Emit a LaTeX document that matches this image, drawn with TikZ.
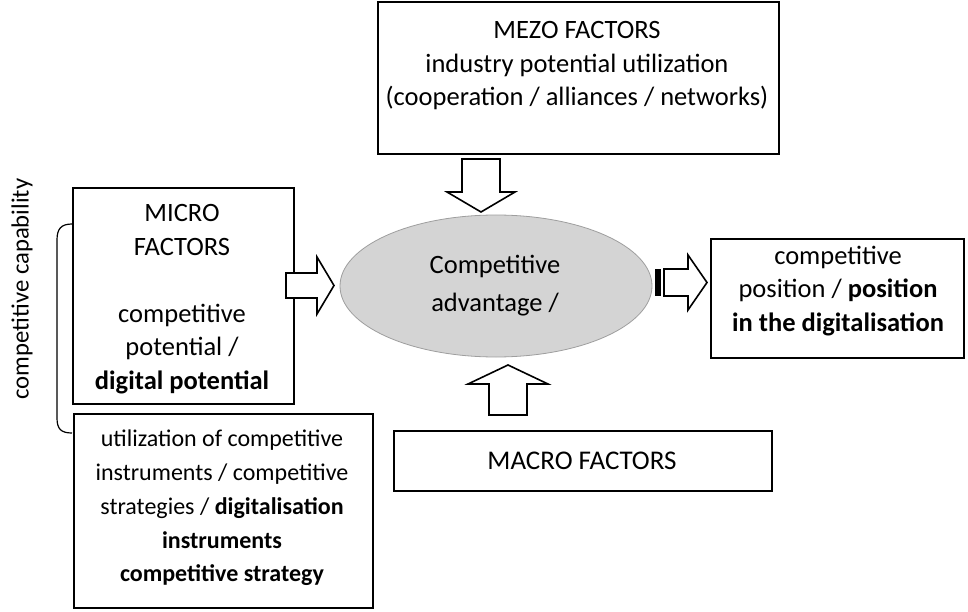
\documentclass[tikz,border=0pt]{standalone}
\usepackage{fontspec}
\setmainfont{Carlito}
\usetikzlibrary{shapes.geometric}
\begin{document}
\begin{tikzpicture}[x=1pt,y=-1pt,
  box/.style={draw=black,line width=1.6pt,fill=white,inner sep=0pt,anchor=north west},
  txt/.style={align=center,font=\fontsize{26.5}{33.5}\selectfont,inner sep=0pt},
  smalltxt/.style={align=center,font=\fontsize{24}{33.8}\selectfont,inner sep=0pt},
  blockarrow/.style={draw=black,line width=1.6pt,fill=white,line join=miter}]
\useasboundingbox (0,0) rectangle (968,612);
% boxes
\node[box,minimum width=401pt,minimum height=152pt] (mezo) at (377,1) {};
\node[box,minimum width=221pt,minimum height=216pt] (micro) at (72,187) {};
\node[box,minimum width=299pt,minimum height=194pt] (instr) at (73,413) {};
\node[box,minimum width=253pt,minimum height=119pt] (pos) at (710,238) {};
\node[box,minimum width=378pt,minimum height=60pt] (macro) at (393,430) {};
% ellipse
\node[ellipse,draw=black!38,line width=0.8pt,fill=black!17,minimum width=312pt,minimum height=142pt,inner sep=0pt] (adv) at (496,286) {};
% texts
\node[txt] (mezotext) at (577,66) {MEZO FACTORS\\industry potential utilization\\(cooperation / alliances / networks)};
\node[txt] (microtext) at (182,299) {MICRO\\FACTORS\\[33.5pt]competitive\\potential /\\\textbf{digital potential}};
\node[smalltxt] (instrtext) at (222,508) {utilization of competitive\\instruments / competitive\\strategies / \textbf{digitalisation}\\\textbf{instruments}\\\textbf{competitive strategy}};
\node[txt] (postext) at (838,291) {competitive\\position / \textbf{position}\\\textbf{in the digitalisation}};
\node[txt,font=\fontsize{27}{33.5}\selectfont] (macrotext) at (582,461) {MACRO FACTORS};
\node[txt,font=\fontsize{26.5}{38}\selectfont] (advtext) at (495,286) {Competitive\\advantage /};
\node[txt,font=\fontsize{24.7}{30}\selectfont,rotate=90] (captext) at (22,289) {competitive capability};
% bracket
\coordinate (brtop) at (72,224);
\coordinate (brbot) at (72,433);
\draw[line width=1.2pt] (brtop) .. controls (61,224) and (57,229) .. (57,240) -- (57,418) .. controls (57,429) and (61,433) .. (brbot);
% block arrows
\draw[blockarrow] (286,273) -- (317,273) -- (317,257) -- (334,285.5) -- (317,314) -- (317,298) -- (286,298) -- cycle;
\draw[blockarrow] (462,159) -- (500,159) -- (500,192) -- (515,192) -- (481,212) -- (447,192) -- (462,192) -- cycle;
\draw[blockarrow] (489,415) -- (527,415) -- (527,384) -- (548,384) -- (508,365) -- (468,384) -- (489,384) -- cycle;
\fill[black] (655,269) rectangle (661,296);
\draw[blockarrow] (664,269) -- (688,269) -- (688,255) -- (707,282.5) -- (688,310) -- (688,296) -- (664,296) -- cycle;
\end{tikzpicture}
\end{document}
